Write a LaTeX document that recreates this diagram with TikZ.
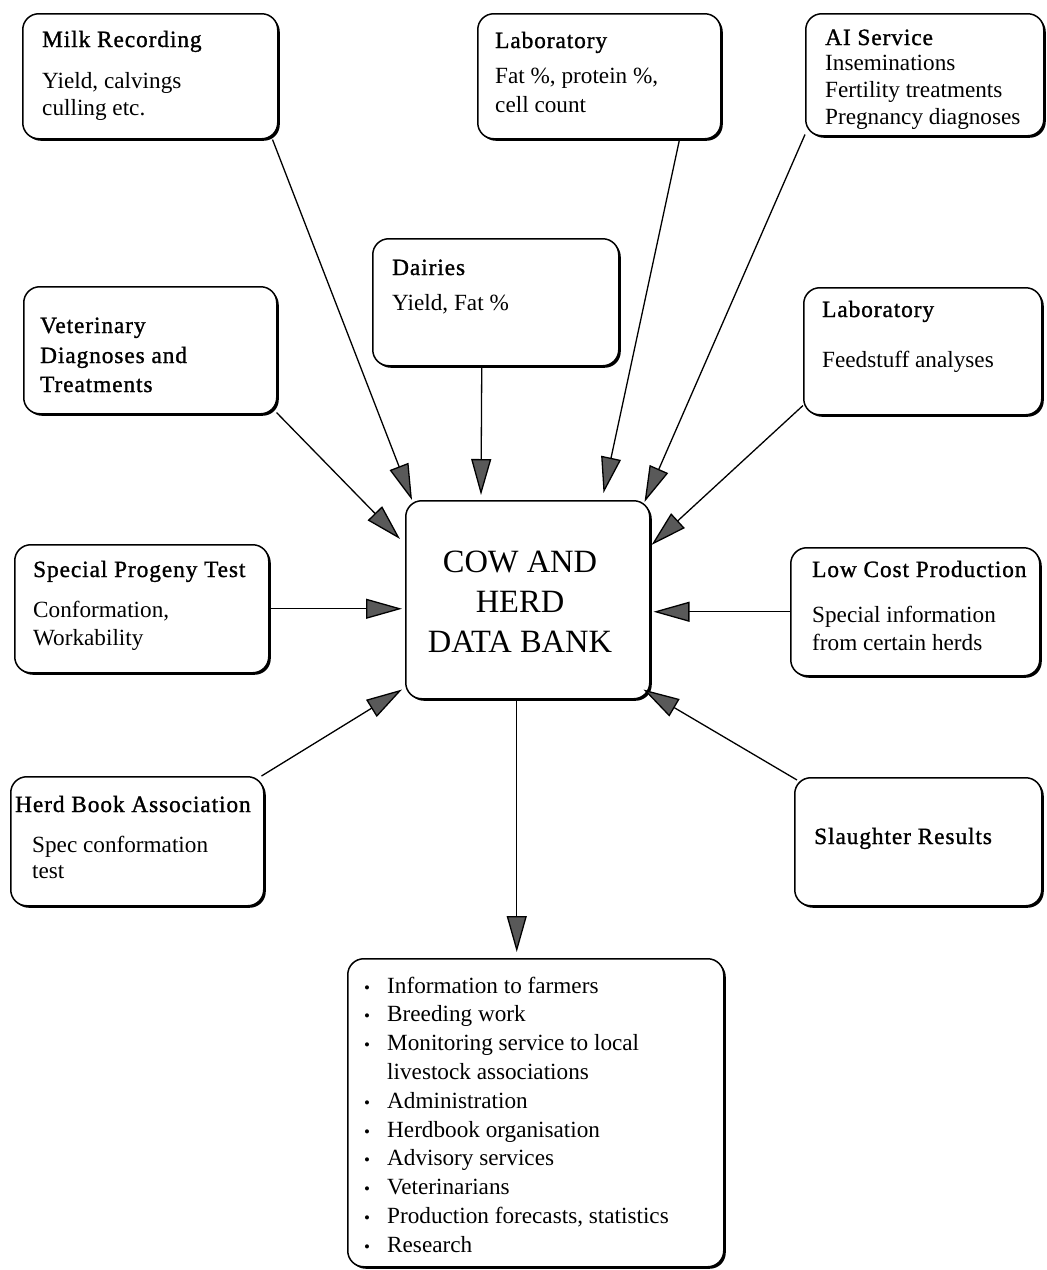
\documentclass[tikz,border=0pt]{standalone}
\usepackage{fontspec}
\setmainfont{Liberation Serif}
\newfontfamily\headfont[FakeBold=1.2,LetterSpace=4]{Liberation Serif}
\usetikzlibrary{arrows.meta,shadows,calc}

\tikzset{
  panel/.style={draw=black, line width=1.5pt, rounded corners=16pt, fill=white,
    inner sep=0pt, anchor=north west,
    drop shadow={shadow xshift=2pt, shadow yshift=-2pt, fill=black, opacity=1}},
  head/.style={anchor=base west, inner sep=0pt, font=\headfont\fontsize{23.3}{27}\selectfont},
  body/.style={anchor=base west, inner sep=0pt, font=\fontsize{23.2}{27}\selectfont},
  hub/.style={anchor=base, inner sep=0pt, font=\fontsize{32.5}{38}\selectfont},
  dot/.style={anchor=base, inner sep=0pt, font=\fontsize{17}{17}\selectfont},
  feed/.style={line width=1.3pt, -{Triangle[length=36pt,width=20pt,fill=black!65]}},
}

\begin{document}
\begin{tikzpicture}[x=1pt,y=-1pt]
\useasboundingbox (0,0) rectangle (1047,1270);

% source panels
\node[panel, minimum width=255pt, minimum height=125pt] (milk)  at (22,13)   {};
\node[panel, minimum width=243pt, minimum height=125pt] (labt)  at (477,13)  {};
\node[panel, minimum width=238pt, minimum height=122pt] (ai)    at (805,13)  {};
\node[panel, minimum width=246pt, minimum height=127pt] (dairy) at (372,238) {};
\node[panel, minimum width=253pt, minimum height=127pt] (vet)   at (23,286)  {};
\node[panel, minimum width=238pt, minimum height=127pt] (labr)  at (803,287) {};
\node[panel, minimum width=254pt, minimum height=128pt] (prog)  at (14,544)  {};
\node[panel, minimum width=249pt, minimum height=128pt] (low)   at (790,547) {};
\node[panel, minimum width=253pt, minimum height=129pt] (herd)  at (10,776)  {};
\node[panel, minimum width=247pt, minimum height=128pt] (slau)  at (794,777) {};

% data bank and users
\node[panel, minimum width=244pt, minimum height=198pt] (bank) at (405,500) {};
\node[panel, minimum width=376pt, minimum height=308pt] (out)  at (347,958) {};

% panel texts
\node[head] (milk-t) at (42,47)  {Milk Recording};
\node[body] (milk-1) at (42,88)  {Yield, calvings};
\node[body] (milk-2) at (42,115) {culling etc.};

\node[head] (labt-t) at (495,48)  {Laboratory};
\node[body] (labt-1) at (495,83)  {Fat \%, protein \%,};
\node[body] (labt-2) at (495,112) {cell count};

\node[head] (ai-t) at (825,45)  {AI Service};
\node[body] (ai-1) at (825,70)  {Inseminations};
\node[body] (ai-2) at (825,97)  {Fertility treatments};
\node[body] (ai-3) at (825,124) {Pregnancy diagnoses};

\node[head] (dairy-t) at (392,275) {Dairies};
\node[body] (dairy-1) at (392,310) {Yield, Fat \%};

\node[head] (vet-t) at (40,333) {Veterinary};
\node[head] (vet-1) at (40,363) {Diagnoses and};
\node[head] (vet-2) at (40,392) {Treatments};

\node[head] (labr-t) at (822,317) {Laboratory};
\node[body] (labr-1) at (822,367) {Feedstuff analyses};

\node[head] (prog-t) at (33,577) {Special Progeny Test};
\node[body] (prog-1) at (33,617) {Conformation,};
\node[body] (prog-2) at (33,645) {Workability};

\node[head] (low-t) at (812,577) {Low Cost Production};
\node[body] (low-1) at (812,622) {Special information};
\node[body] (low-2) at (812,650) {from certain herds};

\node[head] (herd-t) at (15,812) {Herd Book Association};
\node[body] (herd-1) at (32,852) {Spec conformation};
\node[body] (herd-2) at (32,878) {test};

\node[head] (slau-t) at (814,844) {Slaughter Results};

\node[hub] (bank-1) at (520,572) {COW AND};
\node[hub] (bank-2) at (520,612) {HERD};
\node[hub] (bank-3) at (520,652) {DATA BANK};

% list of users
\foreach \i in {0,1,2,4,5,6,7,8,9}
  \node[dot] (out-b\i) at (367,{993+28.8*\i}) {•};
\node[body] (out-0) at (387,993)    {Information to farmers};
\node[body] (out-1) at (387,1021.8) {Breeding work};
\node[body] (out-2) at (387,1050.6) {Monitoring service to local};
\node[body] (out-3) at (387,1079.4) {livestock associations};
\node[body] (out-4) at (387,1108.2) {Administration};
\node[body] (out-5) at (387,1137)   {Herdbook organisation};
\node[body] (out-6) at (387,1165.8) {Advisory services};
\node[body] (out-7) at (387,1194.6) {Veterinarians};
\node[body] (out-8) at (387,1223.4) {Production forecasts, statistics};
\node[body] (out-9) at (387,1252.2) {Research};

% data flows
\draw[feed] ([xshift=-6pt]milk.south east) -- ([xshift=7pt]bank.north west);
\draw[feed] ([xshift=-14pt]dairy.south) -- ([xshift=76pt,yshift=5pt]bank.north west);
\draw[feed] ([xshift=-42pt]labt.south east) -- ([xshift=-47pt,yshift=7pt]bank.north east);
\draw[feed] ([yshift=2pt]ai.south west) -- ([xshift=-6pt,yshift=-2pt]bank.north east);
\draw[feed] ([xshift=-1pt,yshift=2pt]vet.south east) -- ([xshift=-5pt,yshift=-39pt]bank.north west);
\draw[feed] ([yshift=10pt]labr.south west) -- ([xshift=1pt,yshift=-45pt]bank.north east);
\draw[feed] (prog.east) -- ($(prog.east -| bank.west)+(-3,0)$);
\draw[feed] (low.west) -- ($(low.west -| bank.east)+(3,0)$);
\draw[feed] ([xshift=-3pt]herd.north east) -- ([xshift=-3pt,yshift=10pt]bank.south west);
\draw[feed] ([xshift=3pt,yshift=-3pt]slau.north west) -- ([xshift=-7pt,yshift=10pt]bank.south east);
\draw[feed] ([xshift=-11pt]bank.south) -- ([xshift=-19pt,yshift=6pt]out.north);
\end{tikzpicture}
\end{document}
